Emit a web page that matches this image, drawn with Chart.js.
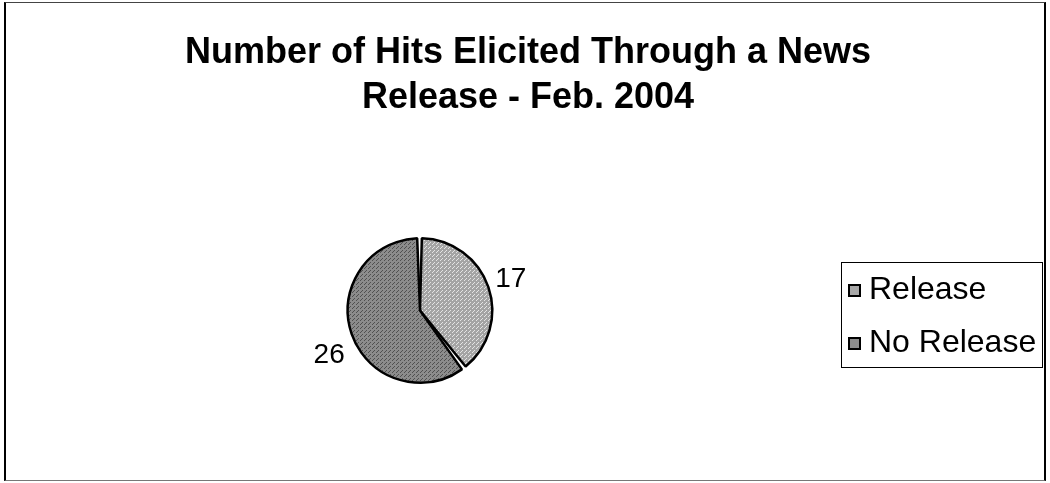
<!DOCTYPE html>
<html>
<head>
<meta charset="utf-8">
<script src="https://cdn.jsdelivr.net/npm/chart.js@4.4.1/dist/chart.umd.min.js"></script>
<style>
  html, body { margin: 0; padding: 0; background: #fff; }
  #wrap { position: relative; width: 1050px; height: 483px; font-family: "Liberation Sans", Arial, sans-serif; }
  #frame { position: absolute; left: 4px; top: 2px; width: 1042px; height: 479px; border: 2px solid #000; border-top: 1px solid #444; border-bottom: 1px solid #777; box-sizing: border-box; }
  #title { position: absolute; left: 0; width: 1056px; top: 28px; text-align: center; font-weight: bold; font-size: 36px; line-height: 45px; color: #000; }
  #legend { position: absolute; left: 841px; top: 262px; width: 202px; height: 106px; border: 1px solid #000; box-sizing: border-box; background: #fff; }
  .item { position: absolute; left: 6px; font-size: 32px; line-height: 36px; color: #000; white-space: nowrap; }
  .item i { display: inline-block; width: 13px; height: 13px; border: 2px solid #000; box-sizing: border-box; margin-right: 8px; vertical-align: 2px; }
  canvas { position: absolute; left: 0; top: 0; }
</style>
</head>
<body>
<div id="wrap">
  <canvas id="c" width="1050" height="483"></canvas>
  <div id="frame"></div>
  <div id="title">Number of Hits Elicited Through a News<br>Release - Feb. 2004</div>
  <div id="legend"></div>
</div>
<script>
// ── Data ──────────────────────────────────────────────────────────────────
const categories = ['Release', 'No Release'];
const hits = [17, 26];

// ── Speckled grey fills, like the scanned print ───────────────────────────
function makePattern(base, dot) {
  const p = document.createElement('canvas');
  p.width = 4; p.height = 4;
  const g = p.getContext('2d');
  g.fillStyle = base;
  g.fillRect(0, 0, 4, 4);
  g.fillStyle = dot;
  g.fillRect(0, 0, 1, 1);
  g.fillRect(2, 2, 1, 1);
  g.fillRect(1, 3, 1, 1);
  return g.createPattern(p, 'repeat');
}
const ctx = document.getElementById('c').getContext('2d');
const FILLS = [makePattern('#a4a4a4', '#e4e4e4'), makePattern('#8c8c8c', '#505050')];
const SWATCH = ['#a8a8a8', '#8c8c8c'];

// ── Legend (boxed, right side) ────────────────────────────────────────────
const legend = document.getElementById('legend');
categories.forEach((name, i) => {
  const d = document.createElement('div');
  d.className = 'item';
  d.style.top = (i === 0 ? 7 : 60) + 'px';
  d.innerHTML = `<i style="background:${SWATCH[i]}"></i>${name}`;
  legend.appendChild(d);
});

// ── Outside value labels (pushed away from the pie, Excel style) ──────────
const outsideLabels = {
  id: 'outsideLabels',
  afterDatasetsDraw(chart) {
    const c = chart.ctx;
    const meta = chart.getDatasetMeta(0);
    c.save();
    c.font = '28px "Liberation Sans", Arial, sans-serif';
    c.fillStyle = '#000';
    c.textBaseline = 'middle';
    meta.data.forEach((arc, i) => {
      const mid = (arc.startAngle + arc.endAngle) / 2;
      const r = arc.outerRadius + 8;
      const x = arc.x + Math.cos(mid) * r;
      const y = arc.y + Math.sin(mid) * r;
      c.textAlign = Math.cos(mid) >= 0 ? 'left' : 'right';
      c.fillText(String(hits[i]), x, y + (Math.sin(mid) > 0 ? 19 : -6));
    });
    c.restore();
  },
};

new Chart(ctx, {
  type: 'pie',
  data: {
    labels: categories,
    datasets: [{
      data: hits,
      backgroundColor: FILLS,
      borderColor: '#000',
      borderWidth: 2.5,
      spacing: 1.5,
    }],
  },
  options: {
    responsive: false,
    animation: false,
    layout: { padding: { top: 237, bottom: 99, left: 0, right: 210 } },
    plugins: {
      legend: { display: false },
      tooltip: { enabled: false },
    },
  },
  plugins: [outsideLabels],
});
</script>
</body>
</html>
